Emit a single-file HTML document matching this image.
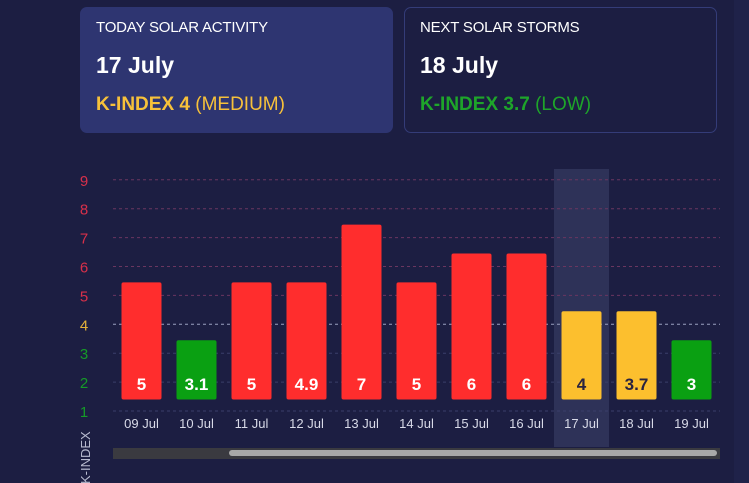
<!DOCTYPE html>
<html><head><meta charset="utf-8"><style>
body{margin:0;width:749px;height:483px;background:#1c1e42;overflow:hidden;font-family:"Liberation Sans","DejaVu Sans",sans-serif;position:relative}
.card{position:absolute;top:7px;width:313px;height:126px;border-radius:7px;box-sizing:border-box;color:#fff}
.t{position:absolute;left:16px;top:12px;font-size:15px;letter-spacing:-0.2px}
.d{position:absolute;left:16px;top:45px;font-size:23px;font-weight:bold}
.k{position:absolute;left:16px;top:87px;font-size:19px}
.k b{font-weight:bold}
</style></head><body>
<div style="position:absolute;left:734px;top:0;width:15px;height:483px;background:#1f2249"></div>
<div class="card" style="left:80px;background:#2e3571">
 <div class="t">TODAY SOLAR ACTIVITY</div>
 <div class="d">17 July</div>
 <div class="k" style="color:#f7c13a"><b>K-INDEX 4</b> (MEDIUM)</div>
</div>
<div class="card" style="left:404px;border:1px solid #343c78">
 <div class="t" style="left:15px;top:11px">NEXT SOLAR STORMS</div>
 <div class="d" style="left:15px;top:44px">18 July</div>
 <div class="k" style="left:15px;top:86px;color:#1ea52a"><b>K-INDEX 3.7</b> (LOW)</div>
</div>
<svg id="chart" width="749" height="483" style="position:absolute;left:0;top:0"></svg>
<script>
const categories=["09 Jul","10 Jul","11 Jul","12 Jul","13 Jul","14 Jul","15 Jul","16 Jul","17 Jul","18 Jul","19 Jul"];
const values=[5,3.1,5,4.9,7,5,6,6,4,3.7,3];
const yTicks=[1,2,3,4,5,6,7,8,9];
const highlightIndex=8;
const NS="http://www.w3.org/2000/svg";
const svg=document.getElementById('chart');
function y(v){return 411-(v-1)*28.9;}
function xc(i){return 141.5+55*i;}
function mk(t,a){const e=document.createElementNS(NS,t);for(const k in a)e.setAttribute(k,a[k]);svg.appendChild(e);return e;}
function lvlColor(v){return v>=4.5?'#ff2d2d':(v>=3.5?'#fcbf2e':'#0aa012');}
function tickColor(v){return v>=5?'#d8304a':(v===4?'#e6b33a':'#159a28');}
// highlight
const hl=mk('rect',{x:xc(highlightIndex)-27.5,y:169,width:55,height:278,fill:'#2e3258'});


yTicks.forEach(v=>{
 const l=mk('line',{x1:113,x2:720,y1:y(v),y2:y(v),stroke:v>=5?'#6a3660':(v===4?'#9aa0c0':'#3a3f6a'),'stroke-width':1,'stroke-dasharray':'3,3'});
 
 
 const t=mk('text',{x:84,y:y(v)+6,'text-anchor':'middle','font-size':15,fill:tickColor(v)});
 t.textContent=v;
 
 
});
const base=1.4;
values.forEach((v,i)=>{
 const top=Math.round(v)+0.45;
 const b=mk('rect',{x:xc(i)-20,y:y(top),width:40,height:y(base)-y(top),rx:2,fill:lvlColor(v)});
 
 
 const lb=mk('text',{x:xc(i),y:390,'text-anchor':'middle','font-size':17,'font-weight':'bold',fill:(v>=3.5&&v<4.5)?'#2a2440':'#fff'});
 lb.textContent=v;
 
 
 const c=mk('text',{x:xc(i),y:428,'text-anchor':'middle','font-size':13,fill:'#d8dae8'});
 c.textContent=categories[i];
 
 
});
const tr=mk('rect',{x:113,y:448,width:607,height:11,fill:'#3a3a40'});


const th=mk('rect',{x:229,y:450,width:488,height:6,rx:3,fill:'#a8a8a8'});


const yt=mk('text',{x:0,y:0,'font-size':13,fill:'#b8bbd0',transform:'translate(90,484) rotate(-90)'});
yt.textContent='K-INDEX';


</script>
</body></html>
